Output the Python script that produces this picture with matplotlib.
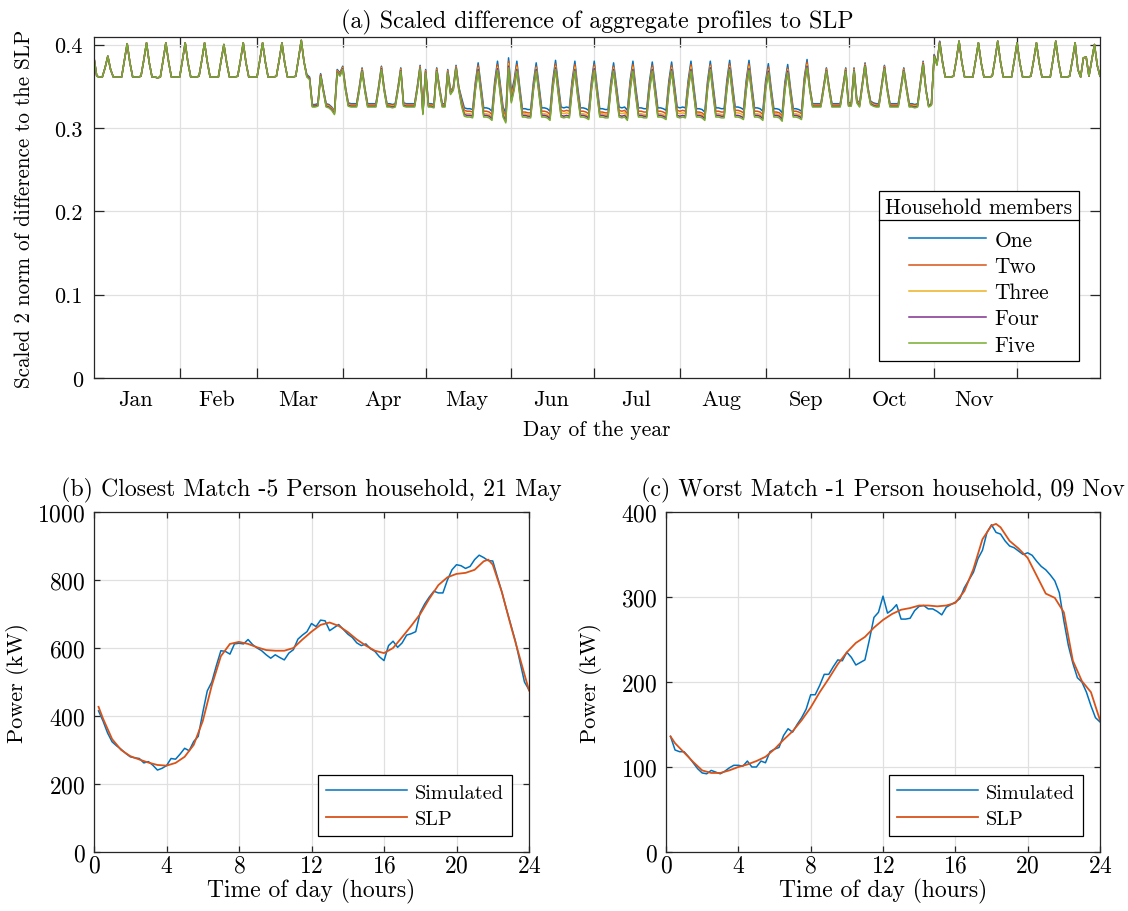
import numpy as np
import matplotlib
matplotlib.use("Agg")
import matplotlib.pyplot as plt
from matplotlib.lines import Line2D

# ==========================================================
# Fonts (LaTeX-like look)
# ==========================================================
plt.rcParams["font.family"] = "serif"
plt.rcParams["font.serif"] = ["cmr10"]
plt.rcParams["mathtext.fontset"] = "cm"
plt.rcParams["axes.formatter.use_mathtext"] = True

# ==========================================================
# Data (a): scaled 2-norm difference, "Five" series per day,
# one row per week (starting Tue 1 Jan)
# ==========================================================
five_weeks = [
    [0.384, 0.362, 0.361, 0.361, 0.372, 0.386, 0.370],
    [0.361, 0.361, 0.361, 0.361, 0.381, 0.401, 0.378],
    [0.361, 0.361, 0.361, 0.362, 0.381, 0.402, 0.378],
    [0.361, 0.361, 0.360, 0.361, 0.381, 0.402, 0.379],
    [0.361, 0.361, 0.361, 0.361, 0.381, 0.402, 0.378],
    [0.361, 0.361, 0.361, 0.362, 0.381, 0.402, 0.379],
    [0.361, 0.361, 0.361, 0.361, 0.381, 0.400, 0.378],
    [0.361, 0.361, 0.361, 0.362, 0.381, 0.402, 0.378],
    [0.361, 0.361, 0.361, 0.361, 0.381, 0.402, 0.379],
    [0.361, 0.361, 0.361, 0.362, 0.381, 0.402, 0.378],
    [0.361, 0.361, 0.361, 0.362, 0.383, 0.405, 0.379],
    [0.361, 0.358, 0.325, 0.325, 0.326, 0.362, 0.343],
    [0.325, 0.324, 0.321, 0.316, 0.366, 0.362, 0.370],
    [0.345, 0.326, 0.325, 0.325, 0.325, 0.345, 0.368],
    [0.344, 0.325, 0.325, 0.325, 0.325, 0.346, 0.370],
    [0.344, 0.325, 0.325, 0.324, 0.325, 0.345, 0.368],
    [0.326, 0.325, 0.325, 0.325, 0.325, 0.346, 0.371],
    [0.316, 0.366, 0.325, 0.325, 0.324, 0.368, 0.345],
    [0.325, 0.325, 0.366, 0.340, 0.345, 0.371, 0.345],
    [0.326, 0.314, 0.313, 0.313, 0.312, 0.345, 0.368],
    [0.340, 0.313, 0.313, 0.312, 0.309, 0.345, 0.369],
    [0.340, 0.313, 0.306, 0.372, 0.330, 0.345, 0.368],
    [0.340, 0.313, 0.313, 0.312, 0.312, 0.345, 0.368],
    [0.340, 0.313, 0.313, 0.312, 0.309, 0.346, 0.370],
    [0.340, 0.313, 0.312, 0.313, 0.312, 0.345, 0.368],
    [0.338, 0.313, 0.313, 0.312, 0.310, 0.345, 0.369],
    [0.340, 0.313, 0.313, 0.312, 0.312, 0.345, 0.368],
    [0.340, 0.313, 0.312, 0.313, 0.309, 0.345, 0.368],
    [0.338, 0.313, 0.313, 0.312, 0.312, 0.345, 0.368],
    [0.340, 0.313, 0.313, 0.312, 0.310, 0.345, 0.368],
    [0.340, 0.313, 0.312, 0.313, 0.312, 0.345, 0.368],
    [0.340, 0.313, 0.313, 0.312, 0.309, 0.346, 0.370],
    [0.340, 0.313, 0.313, 0.312, 0.312, 0.346, 0.370],
    [0.340, 0.313, 0.313, 0.312, 0.310, 0.345, 0.369],
    [0.340, 0.313, 0.313, 0.312, 0.309, 0.345, 0.366],
    [0.338, 0.313, 0.313, 0.312, 0.308, 0.345, 0.366],
    [0.338, 0.313, 0.313, 0.312, 0.310, 0.350, 0.372],
    [0.345, 0.325, 0.325, 0.325, 0.325, 0.346, 0.368],
    [0.345, 0.325, 0.325, 0.325, 0.325, 0.346, 0.368],
    [0.326, 0.326, 0.368, 0.330, 0.325, 0.350, 0.374],
    [0.345, 0.328, 0.326, 0.325, 0.325, 0.348, 0.371],
    [0.345, 0.325, 0.325, 0.325, 0.325, 0.346, 0.368],
    [0.345, 0.325, 0.325, 0.324, 0.325, 0.350, 0.376],
    [0.345, 0.325, 0.327, 0.386, 0.375, 0.402, 0.378],
    [0.361, 0.361, 0.361, 0.362, 0.381, 0.404, 0.379],
    [0.361, 0.361, 0.361, 0.361, 0.381, 0.402, 0.378],
    [0.361, 0.361, 0.361, 0.362, 0.382, 0.404, 0.379],
    [0.361, 0.361, 0.361, 0.361, 0.381, 0.402, 0.378],
    [0.361, 0.361, 0.361, 0.362, 0.381, 0.402, 0.378],
    [0.361, 0.361, 0.361, 0.361, 0.382, 0.404, 0.379],
    [0.361, 0.361, 0.361, 0.362, 0.381, 0.402, 0.370],
    [0.361, 0.384, 0.385, 0.362, 0.381, 0.400, 0.375],
    [0.362],
]

# weekly offsets of the other household sizes relative to "Five"
one_off = [0, 0, 0, 0, 0, 0, 0, 0, 0, 0, 0,
           0.003, 0.004, 0.004, 0.004, 0.004, 0.004, 0.004, 0.004,
           0.010, 0.011, 0.012, 0.010, 0.011, 0.012, 0.011, 0.010, 0.012,
           0.011, 0.011, 0.012, 0.010, 0.011, 0.012, 0.011, 0.010, 0.010,
           0.004, 0.004, 0.004, 0.004, 0.004, 0.004, 0.002,
           0, 0, 0, 0, 0, 0, 0, 0, 0]
two_off = [0, 0, 0, 0, 0, 0, 0, 0, 0, 0, 0,
           0.002, 0.003, 0.003, 0.003, 0.003, 0.003, 0.003, 0.003,
           0.007, 0.007, 0.008, 0.006, 0.007, 0.008, 0.007, 0.006, 0.008,
           0.007, 0.007, 0.008, 0.006, 0.007, 0.008, 0.007, 0.006, 0.007,
           0.003, 0.003, 0.003, 0.003, 0.003, 0.003, 0.001,
           0, 0, 0, 0, 0, 0, 0, 0, 0]
three_off = [0, 0, 0, 0, 0, 0, 0, 0, 0, 0, 0,
             0.001, 0.002, 0.002, 0.002, 0.002, 0.002, 0.002, 0.002,
             0.004, 0.004, 0.005, 0.004, 0.004, 0.005, 0.004, 0.004, 0.005,
             0.004, 0.004, 0.005, 0.004, 0.004, 0.005, 0.004, 0.004, 0.004,
             0.002, 0.002, 0.002, 0.002, 0.002, 0.002, 0.001,
             0, 0, 0, 0, 0, 0, 0, 0, 0]
four_off = [0, 0, 0, 0, 0, 0, 0, 0, 0, 0, 0,
            0.001, 0.001, 0.001, 0.001, 0.001, 0.001, 0.001, 0.001,
            0.002, 0.002, 0.002, 0.002, 0.002, 0.002, 0.002, 0.002, 0.002,
            0.002, 0.002, 0.002, 0.002, 0.002, 0.002, 0.002, 0.002, 0.002,
            0.001, 0.001, 0.001, 0.001, 0.001, 0.001, 0.001,
            0, 0, 0, 0, 0, 0, 0, 0, 0]

series_names = ["One", "Two", "Three", "Four", "Five"]
series_colors = ["#0072BD", "#D95319", "#EDB120", "#7E2F8E", "#77AC30"]

month_names = ["Jan", "Feb", "Mar", "Apr", "May", "Jun",
               "Jul", "Aug", "Sep", "Oct", "Nov"]
month_lengths = [31, 28, 31, 30, 31, 30, 31, 31, 30, 31, 30, 31]

# ==========================================================
# Data (b): closest match, 5 person household, 21 May
# simulated at 15 min steps, one row per hour
# ==========================================================
sim_b_rows = [
    [415, 385, 350, 324], [312, 302, 290, 280], [277, 275, 262, 266],
    [255, 241, 246, 254], [275, 273, 288, 305], [298, 325, 340, 410],
    [474, 500, 548, 592], [590, 582, 612, 614], [612, 625, 610, 600],
    [592, 580, 570, 580], [572, 565, 585, 595], [626, 638, 648, 672],
    [663, 682, 680, 651], [660, 669, 655, 641], [631, 615, 607, 612],
    [598, 590, 574, 563], [607, 620, 602, 615], [638, 642, 648, 705],
    [730, 750, 767, 762], [762, 800, 830, 845], [842, 834, 840, 860],
    [873, 866, 857, 856], [810, 765, 715, 668], [620, 560, 500, 477],
]
slp_b_hours = [0.25, 0.5, 1, 1.5, 2, 2.5, 3, 3.5, 4, 4.5, 5, 5.5, 6, 6.5,
               7, 7.5, 8, 8.5, 9, 9.5, 10, 10.5, 11, 11.5, 12, 12.5, 13,
               13.5, 14, 14.5, 15, 15.5, 16, 16.5, 17, 17.5, 18, 18.5, 19,
               19.5, 20, 20.5, 21, 21.5, 21.75, 22, 22.5, 23, 23.5, 24]
slp_b = [427, 392, 332, 300, 282, 272, 263, 256, 254, 262, 280, 315, 385,
         490, 576, 612, 618, 612, 602, 594, 592, 592, 600, 625, 648, 668,
         675, 665, 647, 625, 607, 592, 585, 600, 632, 665, 700, 745, 785,
         808, 818, 821, 830, 855, 860, 845, 765, 665, 570, 475]

# ==========================================================
# Data (c): worst match, 1 person household, 09 Nov
# ==========================================================
sim_c_rows = [
    [136, 120, 118, 118], [112, 105, 98, 93], [92, 96, 94, 92],
    [95, 99, 102, 102], [101, 107, 100, 100], [107, 105, 118, 121],
    [123, 137, 145, 141], [150, 158, 168, 185], [185, 196, 209, 209],
    [218, 226, 225, 235], [229, 220, 223, 226], [250, 276, 282, 301],
    [281, 285, 291, 274], [274, 275, 284, 289], [290, 286, 286, 283],
    [279, 288, 291, 294], [298, 311, 320, 329], [345, 355, 376, 385],
    [376, 374, 366, 360], [358, 354, 350, 352], [349, 342, 336, 332],
    [326, 319, 305, 272], [243, 222, 205, 200], [188, 172, 158, 153],
]
slp_c_hours = [0.25, 0.5, 1, 1.5, 2, 2.5, 3, 3.5, 4, 4.5, 5, 5.5, 6, 6.5,
               7, 7.5, 8, 8.5, 9, 9.5, 10, 10.5, 11, 11.5, 12, 12.5, 13,
               13.5, 14, 14.5, 15, 15.5, 16, 16.5, 17, 17.5, 18, 18.25,
               18.5, 19, 19.5, 20, 20.5, 21, 21.5, 22, 22.5, 23, 23.5, 24]
slp_c = [136, 128, 117, 106, 96, 93, 93, 96, 100, 103, 107, 112, 121, 132,
         142, 155, 170, 188, 204, 221, 235, 246, 253, 264, 273, 280, 285,
         287, 290, 290, 289, 290, 293, 307, 333, 368, 384, 386, 382, 366,
         357, 346, 325, 304, 299, 282, 225, 201, 188, 155]

# ==========================================================
# Build arrays
# ==========================================================
five = np.concatenate([np.array(w) for w in five_weeks])
days = np.arange(1, len(five) + 1)
week_idx = (days - 1) // 7
series = [
    five + np.array(one_off)[week_idx],
    five + np.array(two_off)[week_idx],
    five + np.array(three_off)[week_idx],
    five + np.array(four_off)[week_idx],
    five,
]

month_starts = np.cumsum([1] + month_lengths[:-1])
month_mids = month_starts + np.array(month_lengths) / 2.0 - 0.5

sim_b = np.concatenate(sim_b_rows)
sim_c = np.concatenate(sim_c_rows)
sim_hours = np.arange(1, len(sim_b) + 1) * 0.25

# ==========================================================
# Figure
# ==========================================================
TITLE_FS = 17.2
LEG_FS = 15.4
fig = plt.figure(figsize=(11.28, 9.12), dpi=100)
ax_a = fig.add_axes([94 / 1128, 1 - 379 / 912, 1006 / 1128, 341 / 912])
ax_b = fig.add_axes([94 / 1128, 1 - 853 / 912, 435 / 1128, 340 / 912])
ax_c = fig.add_axes([666 / 1128, 1 - 853 / 912, 434 / 1128, 340 / 912])


def style_axes(ax, ticklen, labelsize):
    ax.grid(True, which="major", color="#e0e0e0", linewidth=0.9)
    ax.set_axisbelow(True)
    for s in ax.spines.values():
        s.set_color("#262626")
        s.set_linewidth(0.9)
    ax.tick_params(which="major", direction="in", length=ticklen, width=0.9,
                   top=True, right=True, color="#262626",
                   labelcolor="black", labelsize=labelsize)


# ---------------- (a) ----------------
for s, name, c in zip(series, series_names, series_colors):
    ax_a.plot(days, s, color=c, linewidth=1.1, label=name)

ax_a.set_xlim(1, 365)
ax_a.set_ylim(0, 0.409)
ax_a.set_yticks([0, 0.1, 0.2, 0.3, 0.4])
ax_a.set_yticklabels(["0", "0.1", "0.2", "0.3", "0.4"])
ax_a.set_xticks(month_starts[1:])
ax_a.set_xticklabels([])
ax_a.set_xticks(month_mids[:len(month_names)], month_names, minor=True)
style_axes(ax_a, 7.2, 16)
ax_a.tick_params(axis="x", which="minor", length=0, labelsize=16, pad=8)
ax_a.tick_params(axis="y", pad=8)

ax_a.set_title("(a) Scaled difference of aggregate profiles to SLP",
               fontsize=TITLE_FS, pad=7)
ax_a.set_xlabel("Day of the year", fontsize=15.5, labelpad=8)
ax_a.set_ylabel("Scaled 2 norm of difference to the SLP", fontsize=15.2,
                labelpad=15)

leg_a = ax_a.legend(title="Household members", loc="lower right",
                    bbox_to_anchor=(1 - 21 / 1006, 17 / 341),
                    borderaxespad=0,
                    fontsize=LEG_FS, title_fontsize=LEG_FS, fancybox=False,
                    edgecolor="black", framealpha=1, handlelength=3.6,
                    handletextpad=0.4, labelspacing=0.31, borderpad=0.3)
leg_a.get_frame().set_linewidth(0.9)
leg_a._legend_box.sep = 0.65 * LEG_FS

# ---------------- (b) and (c) ----------------
panels = [
    (ax_b, sim_b, slp_b_hours, slp_b, 1000, 200, 6,
     "(b) Closest Match -5 Person household, 21 May"),
    (ax_c, sim_c, slp_c_hours, slp_c, 400, 100, 14,
     "(c) Worst Match -1 Person household, 09 Nov"),
]
for ax, sim, slp_h, slp, ymax, ystep, ylpad, title in panels:
    ax.plot(sim_hours, sim, color="#0072BD", linewidth=1.1, label="Simulated")
    ax.plot(slp_h, slp, color="#D95319", linewidth=1.3, label="SLP")
    ax.set_xlim(0, 24)
    ax.set_ylim(0, ymax)
    ax.set_xticks(np.arange(0, 25, 4))
    ax.set_yticks(np.arange(0, ymax + 1, ystep))
    style_axes(ax, 4.3, 17)
    ax.tick_params(axis="x", pad=2)
    ax.tick_params(axis="y", pad=6)
    ax.set_title(title, fontsize=TITLE_FS, pad=12)
    ax.set_xlabel("Time of day (hours)", fontsize=17, labelpad=1)
    ax.set_ylabel("Power (kW)", fontsize=16, labelpad=ylpad)
    leg = ax.legend(loc="lower right",
                    bbox_to_anchor=(1 - 17 / 435, 16 / 340),
                    borderaxespad=0,
                    fontsize=14.6, fancybox=False,
                    edgecolor="black", framealpha=1, handlelength=4.0,
                    handletextpad=0.4, labelspacing=0.4, borderpad=0.4)
    leg.get_frame().set_linewidth(0.9)

# ---------------- legend title separator ----------------
fig.canvas.draw()
renderer = fig.canvas.get_renderer()
bb = leg_a.get_window_extent(renderer)
tb = leg_a.get_title().get_window_extent(renderer)
W, H = fig.bbox.width, fig.bbox.height
y_sep = tb.y0 - 0.25 * LEG_FS
fig.add_artist(Line2D([bb.x0 / W, bb.x1 / W], [y_sep / H, y_sep / H],
                      transform=fig.transFigure, color="black",
                      linewidth=0.9))

fig.savefig("out.png", dpi=100)
